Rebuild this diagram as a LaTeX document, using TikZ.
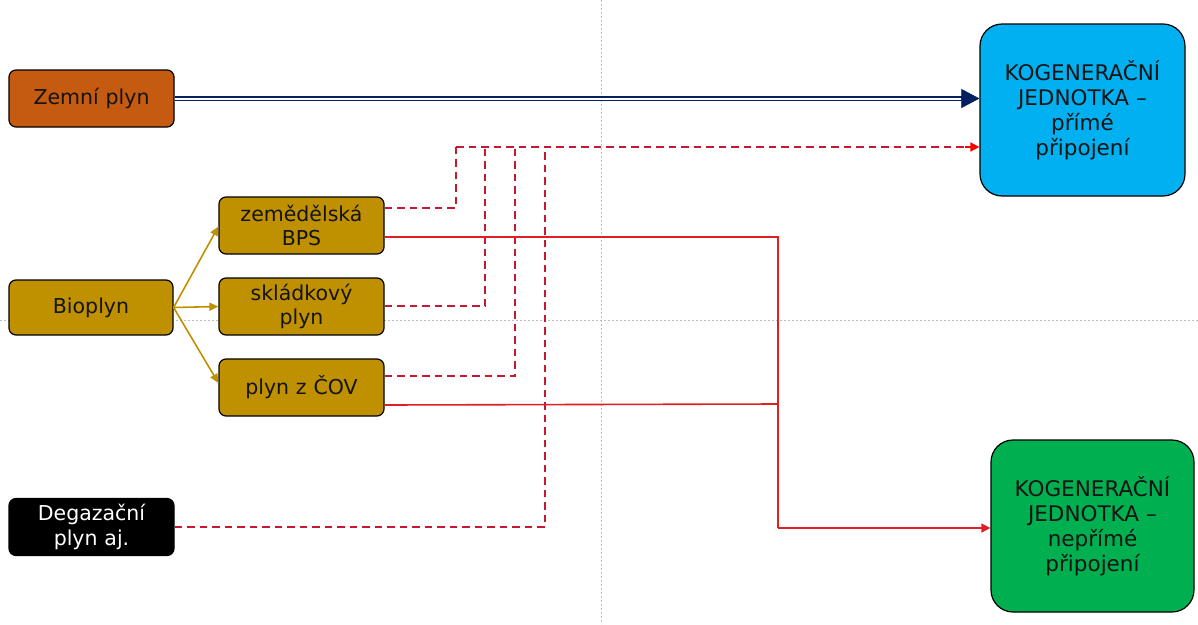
\documentclass[tikz,border=0pt]{standalone}
\usepackage{fontspec}
\setmainfont{DejaVu Sans}
\usetikzlibrary{arrows.meta,calc}
\definecolor{zorange}{RGB}{197,90,17}
\definecolor{gold}{RGB}{191,144,0}
\definecolor{kblue}{RGB}{0,176,240}
\definecolor{kgreen}{RGB}{0,176,80}
\definecolor{navyc}{RGB}{0,32,96}
\definecolor{dred}{RGB}{195,25,50}
\definecolor{sred}{RGB}{225,30,35}
\definecolor{txt}{RGB}{20,20,20}
\definecolor{gridc}{RGB}{190,190,190}
\tikzset{
  src/.style={draw=black, line width=1.2pt, rounded corners=7pt, minimum width=165pt, minimum height=57pt,
    text width=160pt, align=center, inner sep=0pt, text=txt, font=\fontsize{20.5}{24.5}\selectfont},
  kbox/.style={draw=black, line width=1.2pt, rounded corners=22pt, minimum width=205pt, minimum height=172pt,
    text width=195pt, align=center, inner sep=0pt, text=txt, font=\fontsize{21.5}{25}\selectfont},
  goldarrow/.style={gold, line width=1.6pt, -{Triangle[length=9pt,width=8pt]}},
  dashedc/.style={dred, line width=1.6pt, dash pattern=on 7.5pt off 5pt},
  solidc/.style={sred, line width=1.6pt},
  gridline/.style={gridc, line width=1pt, dash pattern=on 2pt off 2pt},
}
\begin{document}
\begin{tikzpicture}[x=1pt,y=-1pt]
\useasboundingbox (0,0) rectangle (1198,624);
% grid lines
\draw[gridline] (601,0) -- (601,624);
\draw[gridline] (0,320) -- (1198,320);
% nodes
\node[src, fill=zorange] (zp) at (91.5,98.5) {Zemní plyn};
\node[src, fill=gold, minimum width=164pt, minimum height=55pt] (bio) at (91,307.5) {Bioplyn};
\node[src, fill=gold] (bps) at (301.5,225.5) {zemědělská\\BPS};
\node[src, fill=gold] (skl) at (301.5,306.5) {skládkový\\plyn};
\node[src, fill=gold] (cov) at (301.5,387.5) {plyn z ČOV};
\node[src, fill=black, text=white] (deg) at (91.5,527) {Degazační\\plyn aj.};
\node[kbox, fill=kblue] (kp) at (1082.5,110) {KOGENERAČNÍ\\JEDNOTKA –\\přímé\\připojení};
\node[kbox, fill=kgreen, minimum width=203pt] (kn) at (1092.5,526) {KOGENERAČNÍ\\JEDNOTKA –\\nepřímé\\připojení};
% natural gas double arrow
\coordinate (zpend) at (962,98.5);
\draw[navyc, line width=1.8pt, double=white, double distance=2pt] (zp.east) -- (zpend);
\draw[navyc, line width=0.5pt, -{Triangle[length=18pt,width=19pt]}] ([xshift=-1pt]zpend) -- (kp.west |- zpend);
% biogas arrows
\draw[goldarrow] (bio.east) -- ([yshift=-1pt]bps.west);
\draw[goldarrow] (bio.east) -- (skl.west);
\draw[goldarrow] (bio.east) -- ([yshift=4.5pt]cov.west);
% dashed (direct)
\coordinate (busL) at (456,147);
\draw[dashedc] ([yshift=17.5pt]bps.east) -| (busL);
\draw[dashedc] ([yshift=0.5pt]skl.east) -| (485,147);
\draw[dashedc] ([yshift=11.5pt]cov.east) -| (515,147);
\draw[dashedc] (deg.east) -| (545,147);
\draw[dashedc] (busL) -- (975,147);
\draw[red, line width=1.6pt, -{Triangle[length=9pt,width=9pt]}] (965,147) -- (kp.west |- busL);
% solid (indirect)
\coordinate (busD) at (778,528);
\draw[solidc] ([yshift=-11.5pt]bps.east) -| (busD);
\draw[solidc] ([yshift=-17.5pt]cov.east) -- (778,404);
\draw[solidc, -{Triangle[length=9pt,width=9pt]}] (busD) -- (kn.west |- busD);
\end{tikzpicture}
\end{document}
